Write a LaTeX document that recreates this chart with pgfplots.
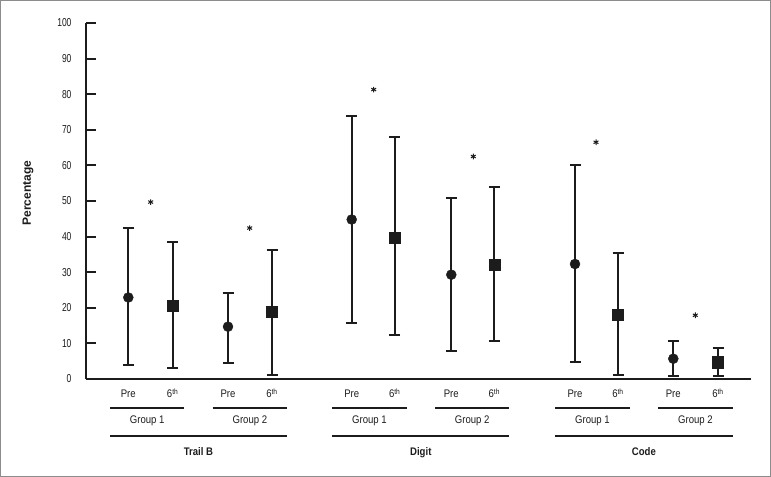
\documentclass[border=0pt]{standalone}
\usepackage{fontspec}
\setmainfont{Liberation Sans}[FakeStretch=0.87]
\newfontfamily\plainfont{Liberation Sans}
\newfontfamily\numfont{Liberation Sans}[FakeStretch=0.74]
\usepackage{pgfplots}
\pgfplotsset{compat=1.18}
\usepackage{pgfplotstable}
\definecolor{ink}{RGB}{28,28,28}
\definecolor{framegray}{RGB}{140,140,140}

\pgfplotstableread{
x y lo hi
128.3 22.9 3.8 42.5
228 14.7 4.5 24.1
351.7 44.8 15.7 73.9
451.3 29.3 7.9 50.8
575 32.3 4.9 60.1
673.3 5.7 0.8 10.6
}\pre
\pgfplotstableread{
x y lo hi
172.7 20.6 3.1 38.5
272 18.8 1.1 36.3
394.7 39.7 12.3 68.0
494.3 32.0 10.7 53.8
618 18.1 1.0 35.4
718 4.7 0.8 8.7
}\sixth
\pgfplotstableread{
x y
150.7 49.7
249.7 42.4
373.7 81.3
473.3 62.5
596 66.5
695.3 17.9
}\stars

\begin{document}
\begin{tikzpicture}
\useasboundingbox (0bp,0bp) rectangle (771bp,477bp);
\draw[framegray, line width=1bp] (0.5bp,0.5bp) rectangle (770.5bp,476.5bp);
\begin{axis}[
  at={(86bp,98bp)}, anchor=south west,
  scale only axis, width=665bp, height=356bp,
  xmin=86, xmax=751, ymin=0, ymax=100,
  axis x line=bottom, axis y line=left,
  axis line style={-, line width=2bp, draw=ink},
  clip=false,
  ytick={0,10,...,100},
  tick align=inside,
  major tick length=10bp,
  y tick style={line width=2bp, draw=ink},
  x tick style={draw=none},
  xtick={128.3,172.7,228,272,351.7,394.7,451.3,494.3,575,618,673.3,718},
  xticklabels={Pre,6\textsuperscript{th},Pre,6\textsuperscript{th},Pre,6\textsuperscript{th},Pre,6\textsuperscript{th},Pre,6\textsuperscript{th},Pre,6\textsuperscript{th}},
  xticklabel style={anchor=base, yshift=-19bp, text=ink, font=\fontsize{11bp}{13bp}\selectfont},
  yticklabel style={anchor=east, xshift=-11bp, text=ink, font=\numfont\fontsize{11.5bp}{13bp}\selectfont},
  /pgf/number format/assume math mode=true,
  ylabel={Percentage},
  ylabel style={at={(axis description cs:-0.0872,0.522)}, anchor=center, font=\plainfont\bfseries\fontsize{12bp}{14bp}\selectfont, text=ink},
  error bars/error mark=|,
  error bars/error bar style={line width=2bp, draw=ink},
  error bars/error mark options={line width=2bp, mark size=5.5bp, draw=ink},
]
\addplot[only marks, mark=*, mark size=5bp, draw=ink, fill=ink,
  error bars/.cd, y dir=both, y explicit]
  table[x=x, y=y, y error plus expr=\thisrow{hi}-\thisrow{y}, y error minus expr=\thisrow{y}-\thisrow{lo}] {\pre};
\addplot[only marks, mark=square*, mark size=5.6bp, draw=ink, fill=ink,
  error bars/.cd, y dir=both, y explicit]
  table[x=x, y=y, y error plus expr=\thisrow{hi}-\thisrow{y}, y error minus expr=\thisrow{y}-\thisrow{lo}] {\sixth};
\addplot[only marks, mark=asterisk, mark size=2.8bp, line width=1bp, draw=ink] table[x=x, y=y] {\stars};

% group brackets
\begin{scope}[line width=2bp, draw=ink]
\draw (axis cs:110,-8.1) -- (axis cs:184.3,-8.1);
\draw (axis cs:212.7,-8.1) -- (axis cs:287,-8.1);
\draw (axis cs:110,-16.1) -- (axis cs:287,-16.1);
\draw (axis cs:332.3,-8.1) -- (axis cs:406.7,-8.1);
\draw (axis cs:435,-8.1) -- (axis cs:509.3,-8.1);
\draw (axis cs:332.3,-16.1) -- (axis cs:509.3,-16.1);
\draw (axis cs:555,-8.1) -- (axis cs:630,-8.1);
\draw (axis cs:658.3,-8.1) -- (axis cs:732.7,-8.1);
\draw (axis cs:555,-16.1) -- (axis cs:732.7,-16.1);
\end{scope}
\begin{scope}[every node/.style={anchor=base, text=ink, font=\fontsize{11bp}{13bp}\selectfont}]
\node at (axis cs:147.2,-12.4) {Group 1};
\node at (axis cs:249.9,-12.4) {Group 2};
\node at (axis cs:369.5,-12.4) {Group 1};
\node at (axis cs:472.2,-12.4) {Group 2};
\node at (axis cs:592.5,-12.4) {Group 1};
\node at (axis cs:695.5,-12.4) {Group 2};
\node[font=\bfseries\fontsize{11bp}{13bp}\selectfont] at (axis cs:198.5,-21.5) {Trail B};
\node[font=\bfseries\fontsize{11bp}{13bp}\selectfont] at (axis cs:420.8,-21.5) {Digit};
\node[font=\bfseries\fontsize{11bp}{13bp}\selectfont] at (axis cs:643.9,-21.5) {Code};
\end{scope}
\end{axis}
\end{tikzpicture}
\end{document}
